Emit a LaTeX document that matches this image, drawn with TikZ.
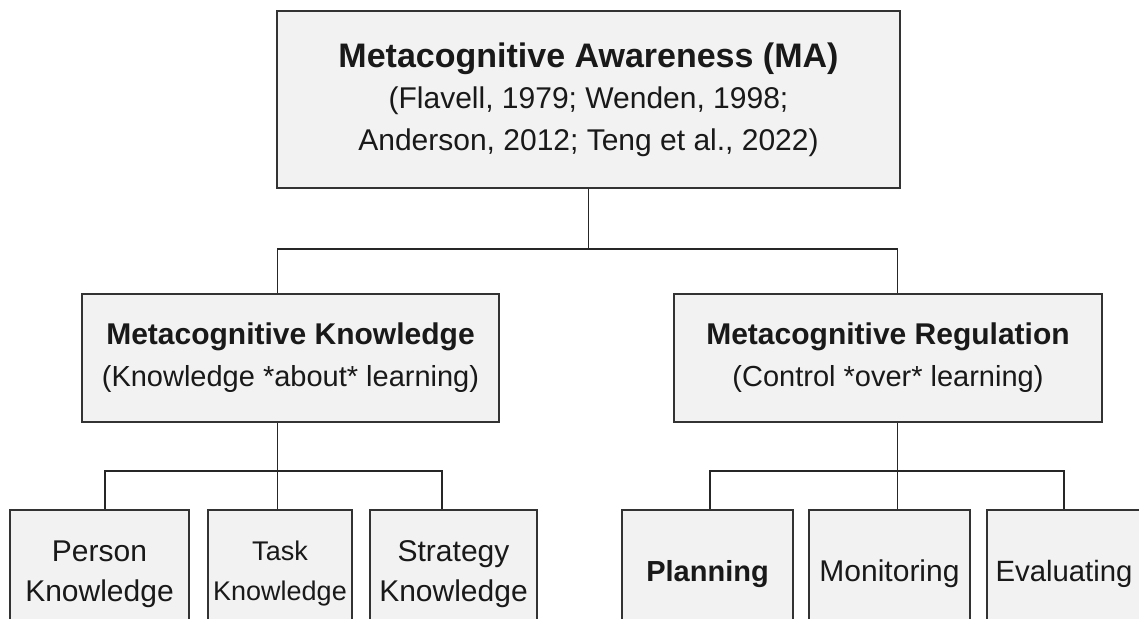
\documentclass[tikz,border=0pt]{standalone}
\usepackage{fontspec}
\setmainfont{Liberation Sans}

\begin{document}
\begin{tikzpicture}[x=0.75pt, y=-0.75pt,
    caja/.style={draw=black!80, fill=black!5, line width=1.3pt, inner sep=0pt,
                 align=center, text=black!90},
    linea/.style={draw=black!85, line width=1.3pt}]
    % Marco de la figura
    \useasboundingbox (0,0) rectangle (1139,618);
    \clip (0,0) rectangle (1139,618);
    \fill[white] (0,0) rectangle (1139,618);

    % Caja principal
    \node[caja, minimum width=467.25pt, minimum height=132.75pt,
          font=\fontsize{22.5}{31}\selectfont] (ma) at (588.5,99.5)
        {{\fontsize{25.5}{30}\selectfont\bfseries Metacognitive Awareness (MA)}\\
         (Flavell, 1979; Wenden, 1998;\\
         Anderson, 2012; Teng et al., 2022)};

    % Segundo nivel
    \node[caja, minimum width=312.75pt, minimum height=96pt,
          font=\fontsize{21.75}{31.5}\selectfont] (mk) at (290.5,358)
        {{\fontsize{22.5}{27}\selectfont\bfseries Metacognitive Knowledge}\\
         (Knowledge *about* learning)};
    \node[caja, minimum width=321pt, minimum height=96pt,
          font=\fontsize{21.75}{31.5}\selectfont] (mr) at (888,358)
        {{\fontsize{22.5}{27}\selectfont\bfseries Metacognitive Regulation}\\
         (Control *over* learning)};

    % Tercer nivel
    \node[caja, minimum width=134.25pt, minimum height=96pt,
          font=\fontsize{22.5}{30}\selectfont] (person) at (99.5,574) {Person\\Knowledge};
    \node[caja, minimum width=108pt, minimum height=96pt,
          font=\fontsize{20.25}{30}\selectfont] (task) at (280,574) {Task\\Knowledge};
    \node[caja, minimum width=125.25pt, minimum height=96pt,
          font=\fontsize{22.5}{30}\selectfont] (strategy) at (453.5,574) {Strategy\\Knowledge};
    \node[caja, minimum width=128.25pt, minimum height=96pt,
          font=\fontsize{21.75}{26}\selectfont\bfseries] (planning) at (707.5,574) {Planning};
    \node[caja, minimum width=120.75pt, minimum height=96pt,
          font=\fontsize{22.5}{27}\selectfont] (monitoring) at (889.5,574) {Monitoring};
    \node[caja, minimum width=115.5pt, minimum height=96pt,
          font=\fontsize{22}{27}\selectfont] (evaluating) at (1064,574) {Evaluating};

    % Conexiones
    \coordinate (nivel1) at (588.5,249);
    \coordinate (nivel2a) at (277.5,471);
    \coordinate (nivel2b) at (897.5,471);
    \draw[linea] (ma.south) -- (nivel1);
    \draw[linea] ([xshift=-9.75pt]mk.north) |- (nivel1) -| ([xshift=7.125pt]mr.north);

    \draw[linea] ([xshift=-9.75pt]mk.south) -- (nivel2a);
    \draw[linea] ([xshift=4.125pt]person.north) |- (nivel2a) -| ([xshift=-8.625pt]strategy.north);
    \draw[linea] (nivel2a) -- (task.north -| nivel2a);

    \draw[linea] ([xshift=7.125pt]mr.south) -- (nivel2b);
    \draw[linea] ([xshift=1.875pt]planning.north) |- (nivel2b) -| (evaluating.north);
    \draw[linea] (nivel2b) -- (monitoring.north -| nivel2b);
\end{tikzpicture}
\end{document}
